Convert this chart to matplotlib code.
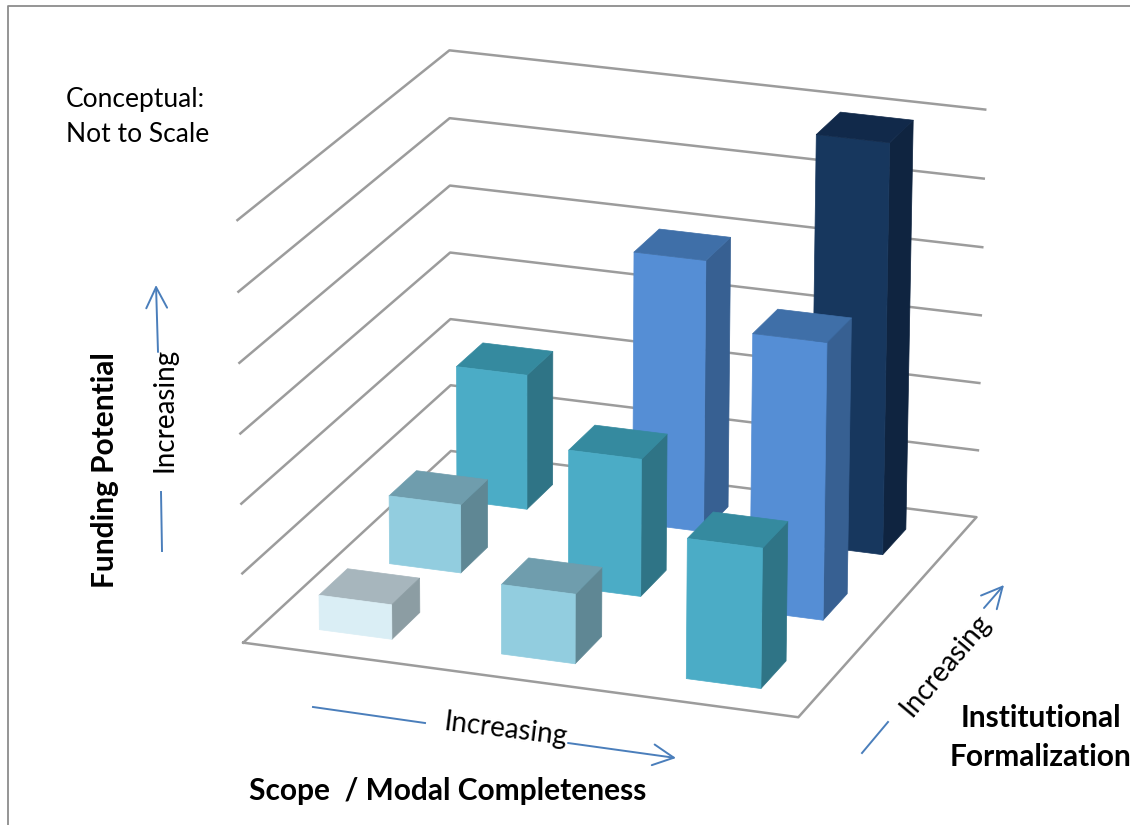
import numpy as np
import matplotlib
matplotlib.use("Agg")
import matplotlib.pyplot as plt
from mpl_toolkits.mplot3d import Axes3D  # noqa

plt.rcParams['font.family'] = ['Lato', 'DejaVu Sans']

# ---- data (levels) ----
scope_levels = [0, 1, 2]
formalization_levels = [0, 1, 2]
funding = [[0.5, 1, 2],
           [1, 2, 4],
           [2, 4, 6]]
front_colors = {0.5: '#DAEEF5', 1: '#92CDDF', 2: '#4BACC6', 4: '#558ED5', 6: '#17375E'}
top_colors = {0.5: '#A7B6BD', 1: '#6F9DAD', 2: '#358A9F', 4: '#3F6FA8', 6: '#11294A'}
side_colors = {0.5: '#8C9DA3', 1: '#5F8794', 2: '#2F7486', 4: '#376092', 6: '#0F2440'}
z_levels = [1, 2, 3, 4, 5, 6]

W, H = 1130, 825
BAR_W, BAR_D = 0.40, 0.40

fig = plt.figure(figsize=(W / 100, H / 100), dpi=100, facecolor='white')
ax = fig.add_axes([0, 0, 1, 1], projection='3d', computed_zorder=False)
ax.apply_aspect = lambda position=None: None
ax.set_position([0, 0, 1, 1])
ax.set_axis_off()

# camera calibration: frame corners -> pixels
world = np.array([(0, 0, 0), (3, 0, 0), (3, 3, 0), (0, 3, 0),
                  (0, 0, 6), (0, 3, 6), (3, 3, 6)], float)
pix = np.array([(244, 642), (798, 718), (977, 516), (450, 452),
                (237, 220), (450, 50), (985, 110)], float)
screen = ax.transData.inverted().transform(np.c_[pix[:, 0], H - pix[:, 1]])
s = screen.std()
A = []
for (X, Y, Z), (u, v) in zip(world, screen / s):
    A.append([X, Y, Z, 1, 0, 0, 0, 0, -u * X, -u * Y, -u * Z, -u])
    A.append([0, 0, 0, 0, X, Y, Z, 1, -v * X, -v * Y, -v * Z, -v])
P = np.linalg.svd(np.array(A))[2][-1].reshape(3, 4)
if P[2] @ np.array([1.5, 1.5, 0, 1]) < 0:
    P = -P
P[:2] *= s
M = np.array([P[0], P[1], [0, 0, 0, -1], P[2]])
ax.get_proj = lambda: M

# walls and floor
GRID = '#9C9C9C'
def wall(z):
    ax.plot([0, 0, 3], [0, 3, 3], [z, z, z], color=GRID, lw=1.8, zorder=1)
for z in z_levels:
    wall(z)
ax.plot([0, 3, 3, 0, 0], [0, 0, 3, 3, 0], [0, 0, 0, 0, 0], color=GRID, lw=1.8, zorder=1)

# bars, back to front and left to right
clear = (0, 0, 0, 0)
order = 2
for j in reversed(formalization_levels):
    for i in scope_levels:
        v = funding[j][i]
        fc = [clear, top_colors[v], front_colors[v], clear, clear, side_colors[v]]
        ax.bar3d([i + 0.5 - BAR_W / 2], [j + 0.5 - BAR_D / 2], [0], BAR_W, BAR_D, v,
                 color=fc, edgecolor=fc, linewidth=0.5, shade=False, zorder=order)
        order += 1
ax.set_position([0, 0, 1, 1])

# overlay in pixel coordinates for annotation
ov = fig.add_axes([0, 0, 1, 1], facecolor='none', zorder=5)
ov.set_xlim(0, W)
ov.set_ylim(H, 0)
ov.axis('off')
BORDER = '#8C8C8C'
ov.plot([7.5, 7.5, W], [H, 5.5, 5.5], color=BORDER, lw=1.3, clip_on=False)

ARROW = '#4A7EBB'
def seg(a, b):
    ov.plot([a[0], b[0]], [a[1], b[1]], color=ARROW, lw=1.4)
def arrow(a, b):
    ov.annotate('', xy=b, xytext=a,
                arrowprops=dict(arrowstyle='->,head_length=1.5,head_width=0.75', color=ARROW, lw=1.4,
                                shrinkA=0, shrinkB=0))
seg((162, 551), (161, 492))
arrow((158, 352), (156, 285))
seg((313, 707), (425, 723))
arrow((568, 743), (676, 758))
seg((862, 753), (888, 722))
arrow((984, 608), (1004, 585))

REG, INC, BOLD = 19, 20, 21.5
ov.text(66, 99, 'Conceptual:', fontsize=REG, va='center', ha='left', color='black')
ov.text(66, 134, 'Not to Scale', fontsize=REG, va='center', ha='left', color='black')
ov.text(165, 410, 'Increasing', fontsize=INC, rotation=90, va='center', ha='center')
ov.text(506, 730, 'Increasing', fontsize=INC, rotation=-7, va='center', ha='center',
        rotation_mode='anchor')
ov.text(945, 665, 'Increasing', fontsize=INC, rotation=50, va='center', ha='center',
        rotation_mode='anchor')
ov.text(105, 470, 'Funding Potential', fontsize=BOLD, fontweight='bold', rotation=90,
        va='center', ha='center')
ov.text(448, 791, 'Scope  / Modal Completeness', fontsize=BOLD, fontweight='bold',
        va='center', ha='center')
ov.text(1041, 718, 'Institutional', fontsize=BOLD, fontweight='bold', va='center', ha='center')
ov.text(1041, 757, 'Formalization', fontsize=BOLD, fontweight='bold', va='center', ha='center',
        clip_on=True)

fig.savefig('out.png', dpi=100)
